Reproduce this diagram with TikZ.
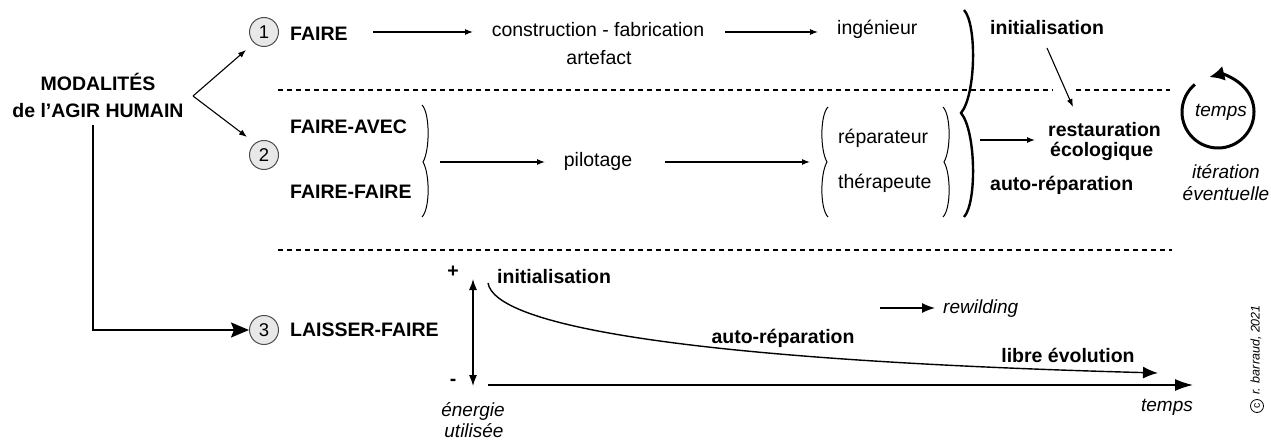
\documentclass[tikz,border=0pt]{standalone}
\usepackage{fontspec}
\setmainfont{Liberation Sans}
\usetikzlibrary{arrows.meta}
\begin{document}
\begin{tikzpicture}[x=1pt,y=-1pt,
  txt/.style={inner sep=0pt, font=\fontsize{19.5}{23}\selectfont},
  btxt/.style={inner sep=0pt, font=\fontsize{19.5}{23}\selectfont\bfseries},
  itxt/.style={inner sep=0pt, font=\fontsize{19}{23}\selectfont\itshape},
  num/.style={circle, draw=black!70, fill=black!9, line width=1pt, minimum size=29pt, inner sep=0pt, font=\fontsize{18.5}{18}\selectfont},
  arr/.style={-{Latex[length=8pt,width=6pt]}, line width=1.1pt},
  dashline/.style={line width=1.4pt, dash pattern=on 5pt off 4pt},
  brace/.style={line width=1pt},
  bigbrace/.style={line width=2.4pt},
]
\useasboundingbox (0,0) rectangle (1271,441);

% ---- left title
\node[btxt, anchor=base] (mod1) at (98,91) {MODALITÉS};
\node[btxt, anchor=base] (mod2) at (98,118) {de l’AGIR HUMAIN};

% ---- numbers
\node[num] (n1) at (264,32) {1};
\node[num] (n2) at (264,155) {2};
\node[num] (n3) at (264,330) {3};

% ---- row 1
\node[btxt, anchor=base west] (faire) at (290,41) {FAIRE};
\node[txt, anchor=base] (constr) at (598,37) {construction - fabrication};
\node[txt, anchor=base] (artef) at (599,65) {artefact};
\node[txt, anchor=base west] (ingen) at (837,35) {ingénieur};
\node[btxt, anchor=base west] (init1) at (990,35) {initialisation};

% ---- row 2
\node[btxt, anchor=base west] (favec) at (290,133) {FAIRE-AVEC};
\node[btxt, anchor=base west] (ffaire) at (290,198) {FAIRE-FAIRE};
\node[txt, anchor=base] (pilot) at (598,166) {pilotage};
\node[txt, anchor=base west] (repar) at (838,143) {réparateur};
\node[txt, anchor=base west] (thera) at (838,188) {thérapeute};
\node[btxt, anchor=base west] (resta) at (1048,137) {restauration};
\node[btxt, anchor=base west] (ecolo) at (1050,157) {écologique};
\node[btxt, anchor=base west] (autor1) at (990,190) {auto-réparation};

% ---- cycle
\coordinate (cyc) at (1218,112);
\node[itxt, anchor=base] (tcyc) at (1221,117) {temps};
\node[itxt, anchor=base] (iter) at (1226,178) {itération};
\node[itxt, anchor=base] (event) at (1226,200) {éventuelle};
\draw[line width=3pt, -{Latex[length=15pt,width=15pt]}] ([shift={(230:36)}]cyc) arc[start angle=230, end angle=-104, radius=36];

% ---- row 3
\node[btxt, anchor=base west] (laisser) at (290,336) {LAISSER-FAIRE};
\node[btxt] (plus) at (453,272) {+};
\node[btxt] (minus) at (453,382) {-};
\node[btxt, anchor=base west] (init2) at (497,283) {initialisation};
\node[itxt, anchor=base west] (rewild) at (943,313) {rewilding};
\node[btxt, anchor=base] (autor2) at (783,343) {auto-réparation};
\node[btxt, anchor=base] (libre) at (1068,362) {libre évolution};
\node[itxt, anchor=base] (temps) at (1167,411) {temps};
\node[itxt, anchor=base] (energ) at (473,416) {énergie};
\node[itxt, anchor=base] (utili) at (474,437) {utilisée};

% copyright (circled c drawn as a shape)
\node[circle, draw, line width=0.8pt, minimum size=13pt, inner sep=0pt, rotate=90, font=\fontsize{10.5}{10}\selectfont] (cc) at (1257,406) {c};
\node[rotate=90, anchor=west, inner sep=0pt, font=\fontsize{12.5}{13}\selectfont\itshape] (copy) at (1256,395) {r. barraud, 2021};

% ---- dashed separators
\draw[dashline] (278,90) -- (1053,90);
\draw[dashline] (1076,90) -- (1170,90);
\draw[dashline] (278,250) -- (1172,250);

% ---- braces
\draw[brace] (422,105) .. controls (430,113) and (430,150) .. (423,162) .. controls (430,174) and (430,209) .. (422,217);
\draw[brace] (828,107) .. controls (820,115) and (820,150) .. (827,162) .. controls (820,174) and (820,209) .. (828,217);
\draw[brace] (943,107) .. controls (951,115) and (951,150) .. (944,162) .. controls (951,174) and (951,209) .. (943,217);
\draw[bigbrace] (964,10) .. controls (977,24) and (976,95) .. (961,113) .. controls (976,131) and (977,203) .. (964,217);

% ---- connectors
\coordinate (apex) at (193,96);
\coordinate (e1) at (246,50);
\coordinate (e2) at (247,137);
\draw[arr] (apex) -- (e1);
\draw[arr] (apex) -- (e2);

\coordinate (a1s) at (373,32); \coordinate (a1e) at (473,32);
\coordinate (a2s) at (725,32); \coordinate (a2e) at (818,32);
\coordinate (a3s) at (440,162); \coordinate (a3e) at (545,162);
\coordinate (a4s) at (665,162); \coordinate (a4e) at (810,162);
\coordinate (a5s) at (980,140); \coordinate (a5e) at (1035,140);
\coordinate (a6s) at (1047,48); \coordinate (a6e) at (1073,107);
\draw[arr] (a1s) -- (a1e);
\draw[arr] (a2s) -- (a2e);
\draw[arr] (a3s) -- (a3e);
\draw[arr] (a4s) -- (a4e);
\draw[arr] (a5s) -- (a5e);
\draw[arr] (a6s) -- (a6e);

% thick path to 3
\coordinate (v0) at (93,125);
\draw[line width=2pt, -{Stealth[length=18pt,width=15pt,inset=3pt]}] (v0) |- (n3.west);

% axes
\coordinate (vtop) at (473,279);
\coordinate (vbot) at (473,386);
\draw[line width=1.2pt, {Latex[length=11pt,width=8pt]}-{Latex[length=11pt,width=8pt]}] (vtop) -- (vbot);
\coordinate (ax0) at (488,385);
\coordinate (ax1) at (1193,385);
\draw[line width=1.6pt, -{Latex[length=18pt,width=12pt]}] (ax0) -- (ax1);

% decay curve
\coordinate (c0) at (488,283);
\coordinate (c1) at (1158,373);
\draw[line width=1.4pt, -{Latex[length=15pt,width=12pt]}] (c0) .. controls (495,325) and (680,360) .. (c1);

% rewilding arrow
\coordinate (r0) at (880,308);
\coordinate (r1) at (935,308);
\draw[line width=1.3pt, -{Latex[length=13pt,width=10pt]}] (r0) -- (r1);
\end{tikzpicture}
\end{document}
